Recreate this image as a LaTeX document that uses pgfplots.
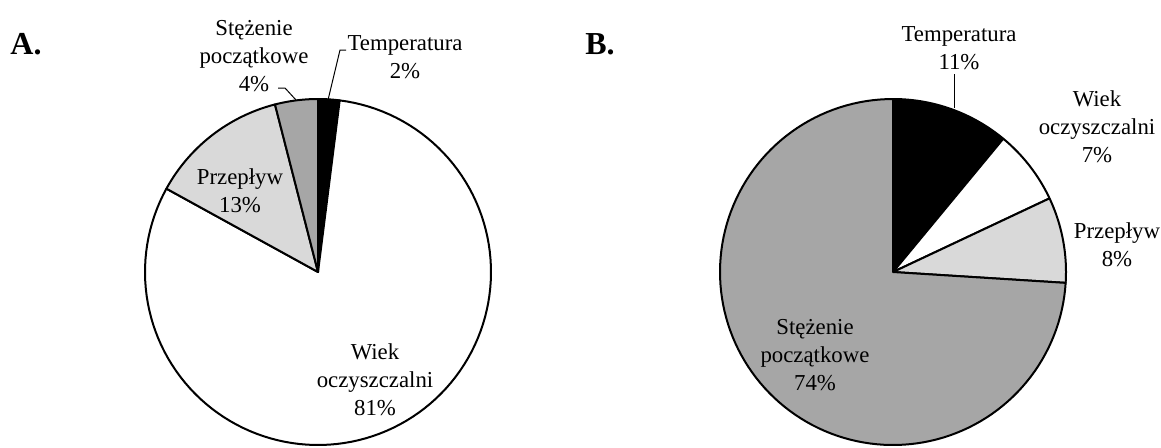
\documentclass[border=0pt]{standalone}
\usepackage{pgfplots}
\pgfplotsset{compat=1.18}
\usepgfplotslibrary{polar}
\usepackage{fontspec}
\setmainfont{Liberation Serif}
\definecolor{lgray}{HTML}{D9D9D9}
\definecolor{mgray}{HTML}{A6A6A6}
\begin{document}
\begin{tikzpicture}[font=\fontsize{11.4}{14.1}\selectfont]
\path[use as bounding box] (0pt,0pt) rectangle (580.5pt,223.5pt);
\pgfplotsset{pie/.style={hide axis, scale only axis, width=173pt, height=173pt,
  ymin=0, ymax=1, xmin=0, xmax=360, anchor=center, clip=false}}
\pgfplotsset{sl/.style={draw=black, line width=1pt, line join=round, samples=120, mark=none}}
% A: Temperatura 2%, Wiek oczyszczalni 81%, Przeplyw 13%, Stezenie poczatkowe 4%
\begin{polaraxis}[pie, at={(159pt,87.5pt)}]
\addplot[sl, fill=black, domain=82.8:90] {1} -- (axis cs:0,0) -- cycle;
\addplot[sl, fill=white, domain=-208.8:82.8] {1} -- (axis cs:0,0) -- cycle;
\addplot[sl, fill=lgray, domain=104.4:151.2] {1} -- (axis cs:0,0) -- cycle;
\addplot[sl, fill=mgray, domain=90:104.4] {1} -- (axis cs:0,0) -- cycle;
\end{polaraxis}
% B: Temperatura 11%, Wiek oczyszczalni 7%, Przeplyw 8%, Stezenie poczatkowe 74%
\begin{polaraxis}[pie, at={(446.5pt,87.5pt)}]
\addplot[sl, fill=black, domain=50.4:90] {1} -- (axis cs:0,0) -- cycle;
\addplot[sl, fill=white, domain=25.2:50.4] {1} -- (axis cs:0,0) -- cycle;
\addplot[sl, fill=lgray, domain=-3.6:25.2] {1} -- (axis cs:0,0) -- cycle;
\addplot[sl, fill=mgray, domain=-270:-3.6] {1} -- (axis cs:0,0) -- cycle;
\end{polaraxis}
\begin{scope}[x=0.5pt,y=-0.5pt,yshift=223.5pt]
\node[font=\fontsize{16}{18}\selectfont\bfseries] at (26,44) {A.};
\node[font=\fontsize{16}{18}\selectfont\bfseries] at (600,44) {B.};
\node[align=center] at (254,56) {Stężenie\\początkowe\\4\%};
\node[align=center] at (405,57) {Temperatura\\2\%};
\node[align=center] at (240,191) {Przepływ\\13\%};
\node[align=center] at (375,380) {Wiek\\oczyszczalni\\81\%};
\draw[line width=0.5pt] (278,88) -- (285,88) -- (296,100);
\draw[line width=0.5pt] (346,50) -- (340,50) -- (328,100);
\node[align=center] at (959,48) {Temperatura\\11\%};
\node[align=center] at (1097,127) {Wiek\\oczyszczalni\\7\%};
\node[align=center] at (1117,245) {Przepływ\\8\%};
\node[align=center] at (815,355) {Stężenie\\początkowe\\74\%};
\draw[line width=0.5pt] (954,74) -- (954,108);
\end{scope}
\end{tikzpicture}
\end{document}
